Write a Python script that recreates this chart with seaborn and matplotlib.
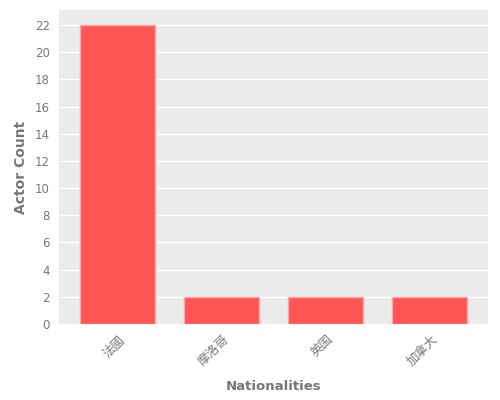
import matplotlib
matplotlib.use("Agg")
import matplotlib.pyplot as plt
from matplotlib.transforms import ScaledTranslation
import seaborn as sns
import pandas as pd

# data
nationalities = ["法國", "摩洛哥", "英国", "加拿大"]
actor_counts = [22, 2, 2, 2]

df = pd.DataFrame({"Nationalities": nationalities, "Actor Count": actor_counts})

sns.set_style("darkgrid", {"axes.facecolor": "#EBEBEB", "grid.color": "white"})
plt.rcParams["font.family"] = ["DejaVu Sans", "Noto Sans CJK TC"]

fig, ax = plt.subplots(figsize=(5, 4), dpi=100)
fig.subplots_adjust(left=0.118, right=0.976, top=0.975, bottom=0.19)

sns.barplot(data=df, x="Nationalities", y="Actor Count", color="#FF5555",
            saturation=1, width=0.72, edgecolor="#FFA8A8", linewidth=1, ax=ax)

ax.set_xlim(-0.56, 3.56)
ax.set_ylim(0, 23.1)
ax.set_yticks(range(0, 23, 2))
ax.grid(axis="x", visible=False)
ax.grid(axis="y", color="white", linewidth=1)
for s in ax.spines.values():
    s.set_visible(False)

ax.tick_params(axis="both", colors="#AAAAAA", labelcolor="#777777",
               length=3, width=0.8)
ax.tick_params(axis="y", labelsize=8.5)
ax.tick_params(axis="x", labelsize=9)
# rotated labels, right edge sits a little past the tick
shift = ScaledTranslation(7.5 / 72, 0, fig.dpi_scale_trans)
for lab in ax.get_xticklabels():
    lab.set_rotation(45)
    lab.set_ha("right")
    lab.set_transform(lab.get_transform() + shift)

ax.set_xlabel("Nationalities", color="#777777", fontsize=9.5, fontweight="bold",
              labelpad=8)
ax.set_ylabel("Actor Count", color="#777777", fontsize=10, fontweight="bold",
              labelpad=5)

fig.savefig("out.png", dpi=100)
